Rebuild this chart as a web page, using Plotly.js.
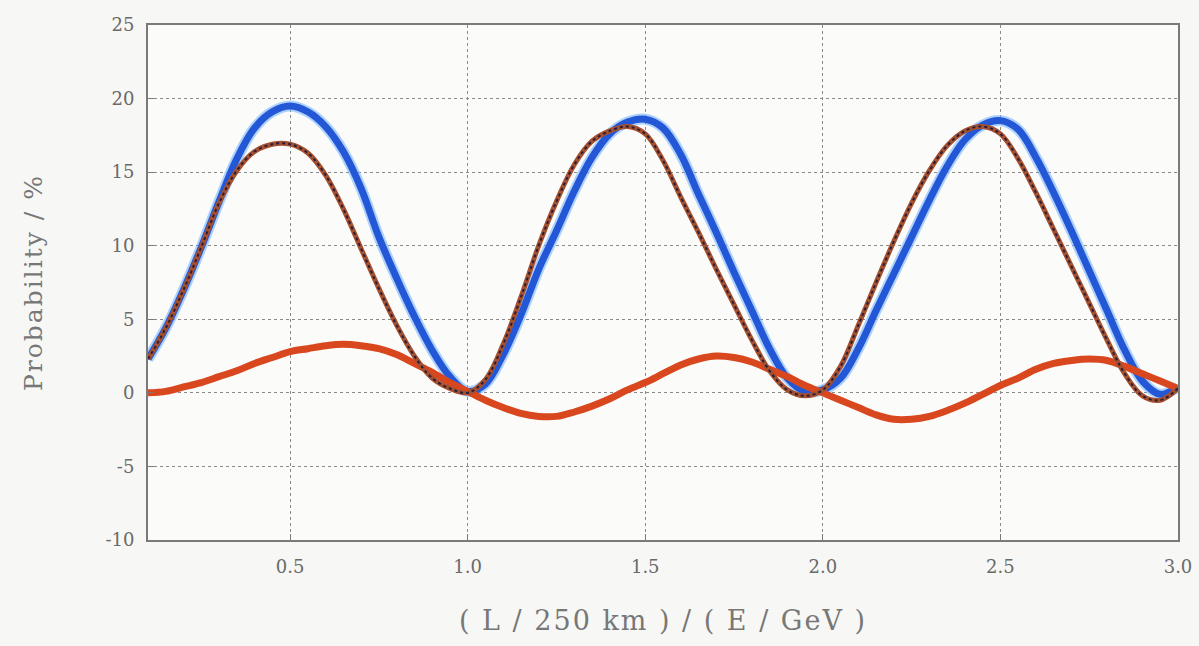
<!DOCTYPE html>
<html><head><meta charset="utf-8">
<script src="https://cdn.plot.ly/plotly-3.0.1.min.js"></script>
<style>
html,body{margin:0;padding:0;background:#f7f7f5;}
#chart{width:1199px;height:646px;}
#chart .xtitle{letter-spacing:2px;}
#chart .ytitle{letter-spacing:2px;}
</style>
</head><body><div id="chart"></div>
<script>
const xValues = [0.10,0.15,0.20,0.25,0.30,0.35,0.40,0.45,0.50,0.55,0.60,0.65,0.70,0.75,0.80,0.85,0.90,0.95,
  1.00,1.05,1.10,1.15,1.20,1.25,1.30,1.35,1.40,1.45,1.50,1.55,1.60,1.65,1.70,1.75,1.80,1.85,1.90,1.95,
  2.00,2.05,2.10,2.15,2.20,2.25,2.30,2.35,2.40,2.45,2.50,2.55,2.60,2.65,2.70,2.75,2.80,2.85,2.90,2.95,3.00];

const blueSeries = [2.3,4.4,7.0,9.9,13.0,15.9,18.0,19.1,19.5,19.1,18.1,16.4,13.9,10.6,7.8,5.2,2.9,1.1,
  0.1,0.6,2.6,5.3,8.4,11.0,13.7,16.0,17.6,18.4,18.6,18.0,16.2,13.5,10.9,8.2,5.6,3.0,1.0,0.1,
  0.2,1.0,3.0,5.6,8.1,10.6,13.1,15.4,17.2,18.2,18.5,17.9,16.0,13.6,11.0,8.3,5.6,2.9,0.8,-0.1,0.4];

const brownSeries = [2.3,4.4,7.0,9.9,12.9,15.1,16.4,16.9,16.9,16.3,14.8,12.5,9.8,7.1,4.6,2.5,1.0,0.3,
  0.0,0.9,3.3,6.5,10.0,13.0,15.5,17.1,17.8,18.1,17.6,15.8,13.3,10.9,8.4,6.0,3.6,1.5,0.2,-0.2,
  0.2,1.8,4.6,7.5,10.3,12.9,15.1,16.8,17.8,18.1,17.6,15.9,13.6,11.1,8.6,6.1,3.6,1.3,-0.2,-0.5,0.3];

const redSeries = [0.0,0.1,0.4,0.7,1.1,1.5,2.0,2.4,2.8,3.0,3.2,3.3,3.2,3.0,2.6,2.0,1.4,0.7,
  0.1,-0.5,-1.0,-1.4,-1.6,-1.6,-1.3,-0.9,-0.4,0.2,0.7,1.3,1.9,2.3,2.5,2.4,2.1,1.6,1.1,0.5,
  0.0,-0.5,-1.0,-1.5,-1.8,-1.8,-1.6,-1.2,-0.7,-0.1,0.5,1.0,1.6,2.0,2.2,2.3,2.2,1.8,1.3,0.8,0.3];

const xTickVals = [0.5,1.0,1.5,2.0,2.5,3.0];
const xTickText = ["0.5","1.0","1.5","2.0","2.5","3.0"];
const yTickVals = [-10,-5,0,5,10,15,20,25];
const yTickText = ["-10","-5","0","5","10","15","20","25"];

const traces = [
  {x:xValues, y:blueSeries, mode:'lines', line:{color:'rgba(110,175,255,0.55)', width:11, shape:'spline'}, hoverinfo:'skip'},
  {x:xValues, y:blueSeries, mode:'lines', line:{color:'#2357d6', width:7, shape:'spline'}},
  {x:xValues, y:redSeries, mode:'lines', line:{color:'#d9471e', width:7, shape:'spline'}},
  {x:xValues, y:brownSeries, mode:'lines', line:{color:'#a5502e', width:5, shape:'spline'}},
  {x:xValues, y:brownSeries, mode:'lines', line:{color:'#2a1d3a', width:2, dash:'dot', shape:'spline'}}
];

const serif = '"DejaVu Serif", "Liberation Serif", serif';
const axisFont = {family:serif, size:18, color:'#6a6a6a'};
const layout = {
  width:1199, height:646,
  paper_bgcolor:'#f7f7f5', plot_bgcolor:'#fbfbfa',
  margin:{l:148, r:21, t:25, b:106},
  showlegend:false,
  xaxis:{range:[0.1,3.0], tickvals:xTickVals, ticktext:xTickText, tickfont:axisFont, ticklabelstandoff:9,
    showgrid:true, gridcolor:'#8a8a8a', griddash:'dot', gridwidth:1,
    showline:true, linecolor:'#7a7a7a', linewidth:2, mirror:true,
    ticks:'inside', ticklen:6, tickcolor:'#7a7a7a', zeroline:false,
    title:{text:'( L / 250 km ) / ( E / GeV )', font:{family:serif, size:27, color:'#777'}, standoff:36}},
  yaxis:{range:[-10,25], tickvals:yTickVals, ticktext:yTickText, tickfont:axisFont, ticklabelstandoff:8,
    showgrid:true, gridcolor:'#8a8a8a', griddash:'dot', gridwidth:1,
    showline:true, linecolor:'#7a7a7a', linewidth:2, mirror:true,
    ticks:'inside', ticklen:6, tickcolor:'#7a7a7a', zeroline:false,
    title:{text:'Probability / %', font:{family:serif, size:25, color:'#777'}, standoff:56}}
};
Plotly.newPlot('chart', traces, layout, {displayModeBar:false, staticPlot:true});
</script></body></html>
